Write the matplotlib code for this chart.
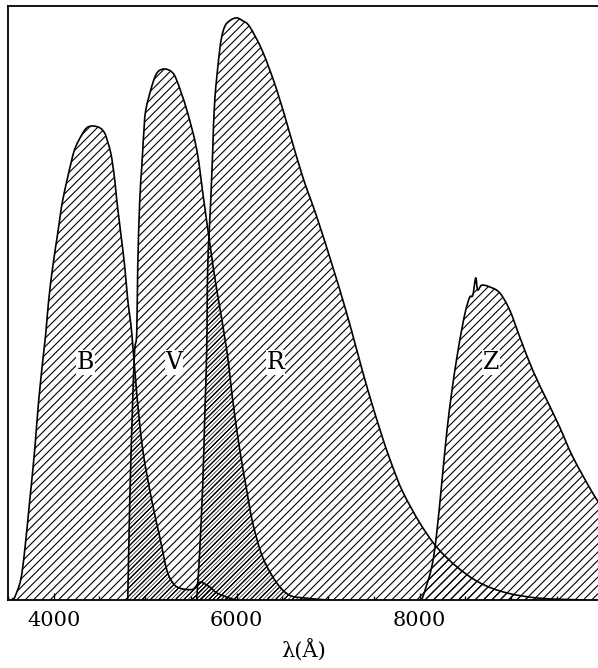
import numpy as np
import matplotlib
matplotlib.use("Agg")
import matplotlib.pyplot as plt
from matplotlib.ticker import MultipleLocator, FixedLocator
from matplotlib.path import Path
from matplotlib.patches import PathPatch

# ---- data (wavelength in Angstrom, relative transmission) ----
lam_B = [3540, 3552, 3574, 3639, 3683, 3738, 3792, 3836, 3893, 3913, 3945, 3989, 4044,
         4098, 4197, 4240, 4306, 4361, 4426, 4503, 4557, 4590, 4623, 4645, 4667, 4689, 4732, 4776,
         4809, 4853, 4907, 4973, 5071, 5159, 5235, 5301, 5377, 5519, 5596, 5705, 5782, 5924, 6000]
T_B = [0.0, 0.002, 0.005, 0.034, 0.084, 0.168, 0.253, 0.337, 0.421, 0.449, 0.505, 0.561, 0.618,
       0.673, 0.741, 0.763, 0.783, 0.795, 0.798, 0.795, 0.786, 0.771, 0.753, 0.732, 0.707, 0.673, 0.618, 0.561,
       0.505, 0.449, 0.348, 0.253, 0.168, 0.106, 0.051, 0.029, 0.020, 0.018, 0.030, 0.022, 0.012, 0.003, 0.0]

lam_V = [4800, 4809, 4831, 4863, 4885, 4907, 4918, 4940, 4962, 4973, 4984, 5006, 5082, 5137, 5213,
         5290, 5344, 5454, 5563, 5640, 5716, 5782, 5891, 5956, 6033, 6109, 6175, 6284, 6437,
         6579, 6765, 7000]
T_V = [0.0, 0.003, 0.168, 0.337, 0.421, 0.449, 0.561, 0.673, 0.729, 0.758, 0.786, 0.825, 0.870, 0.889, 0.894,
       0.889, 0.875, 0.825, 0.758, 0.673, 0.589, 0.522, 0.421, 0.337, 0.253, 0.185, 0.130, 0.072, 0.029,
       0.008, 0.003, 0.0]

lam_R = [5555, 5563, 5574, 5596, 5629, 5650, 5672, 5683, 5716, 5738, 5760, 5814, 5847, 5891, 5989,
         6066, 6142, 6284, 6437, 6579, 6722, 6875, 7049, 7192, 7312, 7432, 7596, 7705, 7815, 8000,
         8186, 8405, 8656, 8951, 9312, 9800]
T_R = [0.0, 0.003, 0.029, 0.084, 0.197, 0.308, 0.421, 0.561, 0.673, 0.758, 0.842, 0.926, 0.955, 0.971, 0.980,
       0.975, 0.965, 0.923, 0.859, 0.786, 0.712, 0.645, 0.561, 0.488, 0.421, 0.354, 0.272, 0.224, 0.182, 0.130,
       0.089, 0.056, 0.029, 0.012, 0.003, 0.0]

lam_Z = [8000, 8033, 8132, 8186, 8241, 8295, 8350, 8405, 8459, 8503, 8547, 8580, 8612, 8634, 8678,
         8766, 8875, 8984, 9093, 9235, 9388, 9530, 9673, 9891, 10000]
T_Z = [0.0, 0.005, 0.056, 0.113, 0.197, 0.281, 0.350, 0.407, 0.455, 0.488, 0.510, 0.513, 0.542, 0.522, 0.530,
       0.527, 0.517, 0.488, 0.443, 0.387, 0.337, 0.291, 0.241, 0.180, 0.155]

band_names = ["B", "V", "R", "Z"]
label_x = [4350, 5312, 6427, 8776]
label_y = [0.40, 0.40, 0.40, 0.40]

tick_values = [4000, 6000, 8000]
tick_labels = ["4000", "6000", "8000"]


def smooth_path(xs, ys, close=True):
    """Catmull-Rom curve through the points, drawn as cubic Bezier segments."""
    P = np.column_stack([xs, ys]).astype(float)
    n = len(P)
    verts = [P[0]]
    codes = [Path.MOVETO]
    for i in range(n - 1):
        p0 = P[i - 1] if i > 0 else P[i]
        p1 = P[i]
        p2 = P[i + 1]
        p3 = P[i + 2] if i + 2 < n else P[i + 1]
        c1 = p1 + (p2 - p0) / 6.0
        c2 = p2 - (p3 - p1) / 6.0
        verts += [c1, c2, p2]
        codes += [Path.CURVE4] * 3
    if close:
        verts += [(xs[-1], 0.0), (xs[0], 0.0), P[0]]
        codes += [Path.LINETO, Path.LINETO, Path.CLOSEPOLY]
    return Path(verts, codes)


def hatched(path, hatch, hlw):
    plt.rcParams['hatch.linewidth'] = hlw
    p = PathPatch(path, facecolor="none", edgecolor="black", hatch=hatch,
                  linewidth=0, transform=ax.transData)
    if hasattr(p, "set_hatch_linewidth"):
        p.set_hatch_linewidth(hlw)
    ax.add_patch(p)
    return p


# ---- figure ----
W, H = 598, 668
fig = plt.figure(figsize=(W / 100, H / 100), dpi=100)
ax = fig.add_axes([8 / W, (H - 600) / H, 1 - 8 / W, 594 / H])

curves = [(lam_B, T_B), (lam_V, T_V), (lam_R, T_R), (lam_Z, T_Z)]
paths = [smooth_path(l, t) for l, t in curves]

for p in paths:
    hatched(p, "////", 0.8)

# overlap regions drawn with denser hatch
pairs = [(1, 0), (2, 1), (2, 0)]
for a, b in pairs:
    ov = hatched(paths[a], "////////", 0.45)
    ov.set_clip_path(paths[b], ax.transData)

for l, t in curves:
    ax.add_patch(PathPatch(smooth_path(l, t, close=False), facecolor="none",
                           edgecolor="black", linewidth=1.2, transform=ax.transData))

for name, x, y in zip(band_names, label_x, label_y):
    ax.text(x, y, name, ha="center", va="center", fontsize=17, family="DejaVu Serif",
            bbox=dict(facecolor="white", edgecolor="none", pad=0.5))

ax.set_xlim(3500, 3500 + 590 * 10.93)
ax.set_ylim(0, 1)
ax.spines["right"].set_visible(False)
for s in ["left", "top", "bottom"]:
    ax.spines[s].set_linewidth(1.3)

ax.xaxis.set_major_locator(FixedLocator(tick_values))
ax.set_xticklabels(tick_labels, family="DejaVu Serif", fontsize=15)
ax.xaxis.set_minor_locator(MultipleLocator(500))
ax.tick_params(axis="x", which="major", direction="in", length=5, width=1, pad=8)
ax.tick_params(axis="x", which="minor", direction="in", length=3, width=1)
ax.set_yticks([])
ax.set_xlabel("λ(Å)", family="DejaVu Serif", fontsize=15, labelpad=6)

fig.savefig("out.png", dpi=100)
